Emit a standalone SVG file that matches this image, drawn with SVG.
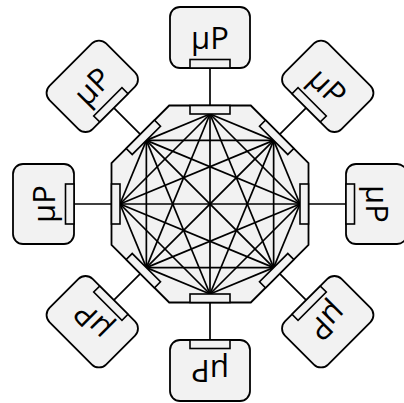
<svg xmlns="http://www.w3.org/2000/svg" width="404" height="403" viewBox="0 0 404 403">
<style>
.sh{fill:#f2f2f2;stroke:#000;stroke-width:1.8}
.pt{fill:#f2f2f2;stroke:#000;stroke-width:1.6}
.ln{stroke:#000;stroke-width:1.7;fill:none}
.lb{font-family:"Open Sans","DejaVu Sans",sans-serif;font-size:31px;text-anchor:middle;fill:#000}
</style>
<rect width="404" height="403" fill="#fff"/>
<g id="hub">
<polygon class="sh" points="250.8,105.5 308.5,163.2 308.5,244.8 250.8,302.5 169.2,302.5 111.5,244.8 111.5,163.2 169.2,105.5"/>
</g>
<g id="connectors" class="ln">
<line x1="210" y1="114" x2="273.64" y2="140.36"/>
<line x1="210" y1="114" x2="300" y2="204"/>
<line x1="210" y1="114" x2="273.64" y2="267.64"/>
<line x1="210" y1="114" x2="210" y2="294"/>
<line x1="210" y1="114" x2="146.36" y2="267.64"/>
<line x1="210" y1="114" x2="120" y2="204"/>
<line x1="210" y1="114" x2="146.36" y2="140.36"/>
<line x1="273.64" y1="140.36" x2="300" y2="204"/>
<line x1="273.64" y1="140.36" x2="273.64" y2="267.64"/>
<line x1="273.64" y1="140.36" x2="210" y2="294"/>
<line x1="273.64" y1="140.36" x2="146.36" y2="267.64"/>
<line x1="273.64" y1="140.36" x2="120" y2="204"/>
<line x1="273.64" y1="140.36" x2="146.36" y2="140.36"/>
<line x1="300" y1="204" x2="273.64" y2="267.64"/>
<line x1="300" y1="204" x2="210" y2="294"/>
<line x1="300" y1="204" x2="146.36" y2="267.64"/>
<line x1="300" y1="204" x2="120" y2="204"/>
<line x1="300" y1="204" x2="146.36" y2="140.36"/>
<line x1="273.64" y1="267.64" x2="210" y2="294"/>
<line x1="273.64" y1="267.64" x2="146.36" y2="267.64"/>
<line x1="273.64" y1="267.64" x2="120" y2="204"/>
<line x1="273.64" y1="267.64" x2="146.36" y2="140.36"/>
<line x1="210" y1="294" x2="146.36" y2="267.64"/>
<line x1="210" y1="294" x2="120" y2="204"/>
<line x1="210" y1="294" x2="146.36" y2="140.36"/>
<line x1="146.36" y1="267.64" x2="120" y2="204"/>
<line x1="146.36" y1="267.64" x2="146.36" y2="140.36"/>
<line x1="120" y1="204" x2="146.36" y2="140.36"/>
<line x1="210" y1="68" x2="210" y2="105.5" transform="rotate(0 210 204)"/>
<line x1="210" y1="68" x2="210" y2="105.5" transform="rotate(45 210 204)"/>
<line x1="210" y1="68" x2="210" y2="105.5" transform="rotate(90 210 204)"/>
<line x1="210" y1="68" x2="210" y2="105.5" transform="rotate(135 210 204)"/>
<line x1="210" y1="68" x2="210" y2="105.5" transform="rotate(180 210 204)"/>
<line x1="210" y1="68" x2="210" y2="105.5" transform="rotate(225 210 204)"/>
<line x1="210" y1="68" x2="210" y2="105.5" transform="rotate(270 210 204)"/>
<line x1="210" y1="68" x2="210" y2="105.5" transform="rotate(315 210 204)"/>
</g>
<g id="hub-ports">
<rect class="pt" x="190" y="105.5" width="40" height="8.5" transform="rotate(0 210 204)"/>
<rect class="pt" x="190" y="105.5" width="40" height="8.5" transform="rotate(45 210 204)"/>
<rect class="pt" x="190" y="105.5" width="40" height="8.5" transform="rotate(90 210 204)"/>
<rect class="pt" x="190" y="105.5" width="40" height="8.5" transform="rotate(135 210 204)"/>
<rect class="pt" x="190" y="105.5" width="40" height="8.5" transform="rotate(180 210 204)"/>
<rect class="pt" x="190" y="105.5" width="40" height="8.5" transform="rotate(225 210 204)"/>
<rect class="pt" x="190" y="105.5" width="40" height="8.5" transform="rotate(270 210 204)"/>
<rect class="pt" x="190" y="105.5" width="40" height="8.5" transform="rotate(315 210 204)"/>
</g>
<g id="p0" transform="rotate(0 210 204)"><rect class="sh" x="170" y="7" width="80" height="61" rx="10"/><rect class="pt" x="190" y="59.5" width="40" height="8.5"/><text class="lb" x="210" y="48.5">µP</text></g>
<g id="p1" transform="rotate(45 210 204)"><rect class="sh" x="170" y="7" width="80" height="61" rx="10"/><rect class="pt" x="190" y="59.5" width="40" height="8.5"/><text class="lb" x="210" y="48.5">µP</text></g>
<g id="p2" transform="rotate(90 210 204)"><rect class="sh" x="170" y="7" width="80" height="61" rx="10"/><rect class="pt" x="190" y="59.5" width="40" height="8.5"/><text class="lb" x="210" y="48.5">µP</text></g>
<g id="p3" transform="rotate(135 210 204)"><rect class="sh" x="170" y="7" width="80" height="61" rx="10"/><rect class="pt" x="190" y="59.5" width="40" height="8.5"/><text class="lb" x="210" y="48.5">µP</text></g>
<g id="p4" transform="rotate(180 210 204)"><rect class="sh" x="170" y="7" width="80" height="61" rx="10"/><rect class="pt" x="190" y="59.5" width="40" height="8.5"/><text class="lb" x="210" y="48.5">µP</text></g>
<g id="p5" transform="rotate(225 210 204)"><rect class="sh" x="170" y="7" width="80" height="61" rx="10"/><rect class="pt" x="190" y="59.5" width="40" height="8.5"/><text class="lb" x="210" y="48.5">µP</text></g>
<g id="p6" transform="rotate(270 210 204)"><rect class="sh" x="170" y="7" width="80" height="61" rx="10"/><rect class="pt" x="190" y="59.5" width="40" height="8.5"/><text class="lb" x="210" y="48.5">µP</text></g>
<g id="p7" transform="rotate(315 210 204)"><rect class="sh" x="170" y="7" width="80" height="61" rx="10"/><rect class="pt" x="190" y="59.5" width="40" height="8.5"/><text class="lb" x="210" y="48.5">µP</text></g>
</svg>
